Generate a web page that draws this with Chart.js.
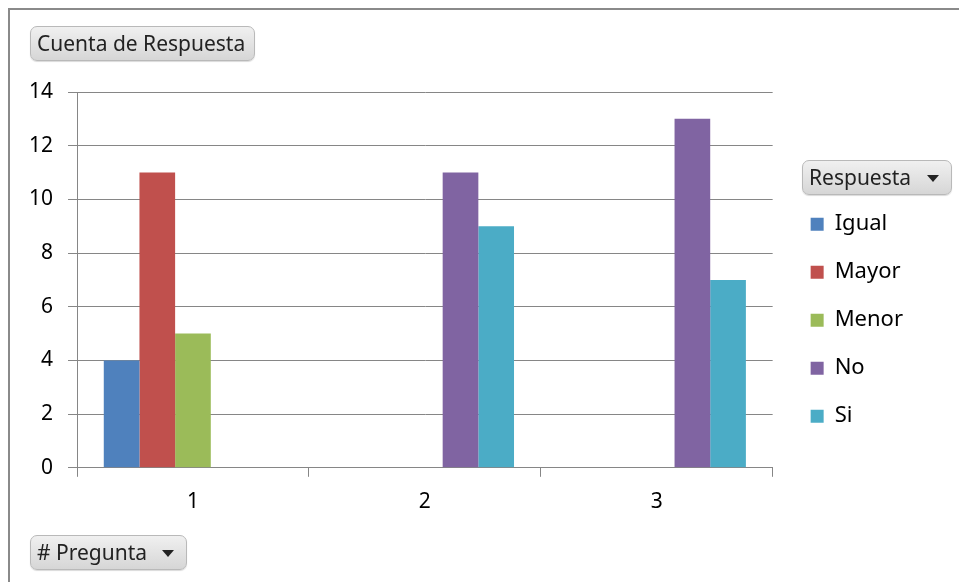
<!DOCTYPE html>
<html>
<head>
<meta charset="utf-8">
<script src="https://cdn.jsdelivr.net/npm/chart.js@4.4.1/dist/chart.umd.min.js"></script>
<style>
  body { margin: 0; background: #fff; font-family: 'Noto Sans', sans-serif; }
  #wrap { position: relative; width: 959px; height: 582px; overflow: hidden; }
  #frame { position: absolute; left: 8px; top: 8px; width: 980px; height: 600px;
    border-top: 2px solid #8a8a8a; border-left: 2px solid #8a8a8a; }
  #chartBox { position: absolute; left: 0; top: 0; width: 959px; height: 582px; }
  .btn { position: absolute; box-sizing: border-box; height: 35px; padding: 0 0 0 6px;
    border: 1px solid #b9b9b9; border-radius: 7px; font-size: 21px; line-height: 32px; color: #222;
    background: linear-gradient(#f0f0f0, #d6d6d6); box-shadow: 0 1px 1px rgba(0,0,0,0.15); white-space: nowrap; }
  .arrow { position: absolute; right: 12px; top: 14px; width: 0; height: 0;
    border-left: 6px solid transparent; border-right: 6px solid transparent; border-top: 7px solid #222; }
</style>
</head>
<body>
<div id="wrap">
  <div id="frame"></div>
  <div id="chartBox"><canvas id="chart"></canvas></div>
  <div class="btn" style="left:30px; top:26px; width:225px;">Cuenta de Respuesta</div>
  <div class="btn" style="left:802px; top:160px; width:150px;">Respuesta<span class="arrow"></span></div>
  <div class="btn" style="left:30px; top:535px; width:157px;"># Pregunta<span class="arrow"></span></div>
</div>
<script>
const categories = ['1', '2', '3'];
const igual = [4, 0, 0];
const mayor = [11, 0, 0];
const menor = [5, 0, 0];
const no = [0, 11, 13];
const si = [0, 9, 7];

const gridColor = '#868686';
const font = { family: "'Noto Sans', sans-serif", size: 21 };
const legendFont = { family: "'Noto Sans', sans-serif", size: 22 };

// push the legend a bit further from the plot, like excel does
const legendGap = {
  id: 'legendGap',
  afterLayout(chart) {
    chart.legend.left += 12;
    chart.legend.right += 12;
  }
};

const ctx = document.getElementById('chart');

const chart = new Chart(ctx, {
  type: 'bar',
  data: {
    labels: categories,
    datasets: [
      { label: 'Igual', data: igual, backgroundColor: '#4F81BD' },
      { label: 'Mayor', data: mayor, backgroundColor: '#C0504D' },
      { label: 'Menor', data: menor, backgroundColor: '#9BBB59' },
      { label: 'No', data: no, backgroundColor: '#8064A2' },
      { label: 'Si', data: si, backgroundColor: '#4BACC6' }
    ]
  },
  options: {
    responsive: true,
    maintainAspectRatio: false,
    animation: false,
    categoryPercentage: 5 / 6.5,
    barPercentage: 1,
    layout: {
      padding: { top: 92, left: 14, bottom: 54, right: 58 }
    },
    plugins: {
      tooltip: { enabled: false },
      legend: {
        position: 'right',
        align: 'start',
        fullSize: false,
        title: {
          display: true,
          text: ' ',
          font: font,
          padding: { top: 61, bottom: 9 }
        },
        labels: {
          boxWidth: 13,
          boxHeight: 13,
          padding: 26,
          color: '#000',
          font: legendFont
        }
      }
    },
    scales: {
      x: {
        grid: {
          drawOnChartArea: false,
          color: gridColor,
          tickLength: 9
        },
        border: { color: gridColor },
        ticks: { color: '#000', font: font, padding: 13 }
      },
      y: {
        min: 0,
        max: 14,
        ticks: { stepSize: 2, color: '#000', font: font, padding: 15 },
        grid: { color: gridColor, tickLength: 9 },
        border: { color: gridColor }
      }
    }
  },
  plugins: [legendGap]
});
</script>
</body>
</html>
